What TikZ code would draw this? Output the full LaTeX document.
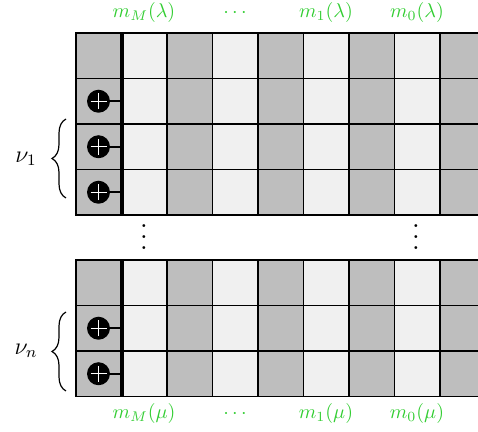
\documentclass[tikz,border=0pt]{standalone}
\usetikzlibrary{decorations.pathreplacing}
\definecolor{cgray}{RGB}{190,190,190}
\definecolor{clight}{RGB}{240,240,240}
\definecolor{lbl}{RGB}{50,205,50}
\begin{document}
\begin{tikzpicture}[x=0.5pt,y=-0.5pt,
  gridline/.style={line width=0.75pt,black},
  thickline/.style={line width=2pt,black},
  plusnode/.style={circle,fill=black,minimum size=11.5pt,inner sep=0pt},
  lab/.style={text=lbl,font=\normalsize},
  dotsnode/.style={scale=1.375,inner sep=0pt},
  bracedeco/.style={decorate,decoration={brace,amplitude=7pt},line width=0.6pt}]
\useasboundingbox (0,0) rectangle (478,432);
\begin{scope}
\clip (0,0) rectangle (478,432);
\foreach \ystart/\nrows in {33/4,260/3}{
  \foreach \c in {0,...,8}{
    \pgfmathsetmacro{\xa}{76+45.5*\c}
    \pgfmathsetmacro{\xb}{76+45.5*(\c+1)}
    \pgfmathtruncatemacro{\cpar}{mod(\c,2)}
    \foreach \r in {1,...,\nrows}{
      \pgfmathsetmacro{\ya}{\ystart+45.5*(\r-1)}
      \pgfmathsetmacro{\yb}{\ystart+45.5*\r}
      \ifnum\cpar=0
        \fill[cgray] (\xa,\ya) rectangle (\xb,\yb);
      \else
        \fill[clight] (\xa,\ya) rectangle (\xb,\yb);
      \fi
      \draw[gridline] (\xa,\ya) rectangle (\xb,\yb);
    }
  }
}
\draw[thickline] (121.5,33) -- (121.5,215);
\draw[thickline] (121.5,260) -- (121.5,396.5);
\end{scope}
% plus circles
\foreach \name/\y in {p1/101.25,p2/146.75,p3/192.25,q1/328.25,q2/373.75}{
  \node[plusnode] (\name) at (98.5,\y) {};
  \coordinate (\name e) at (121.5,\y);
  \draw[line width=1.2pt] (\name) -- (\name e);
  \draw[white,line width=0.6pt] ([xshift=-4pt]\name.center) -- ([xshift=4pt]\name.center)
    ([yshift=-4pt]\name.center) -- ([yshift=4pt]\name.center);
}
% braces
\coordinate (b1s) at (66,198);
\coordinate (b1e) at (66,119);
\draw[bracedeco] (b1s) -- (b1e);
\node[font=\large] (nu1) at (26,159) {$\nu_1$};
\coordinate (b2s) at (66,391);
\coordinate (b2e) at (66,312);
\draw[bracedeco] (b2s) -- (b2e);
\node[font=\large] (nun) at (26,351) {$\nu_n$};
% vdots
\node[dotsnode,anchor=south] (vd1) at (144,250) {$\vdots$};
\node[dotsnode,anchor=south] (vd2) at (416,250) {$\vdots$};
% labels
\node[lab] (t1) at (144,13) {$m_M(\lambda)$};
\node[lab] (t2) at (235,13) {$\cdots$};
\node[lab] (t3) at (326,13) {$m_1(\lambda)$};
\node[lab] (t4) at (417,13) {$m_0(\lambda)$};
\node[lab] (u1) at (144,414) {$m_M(\mu)$};
\node[lab] (u2) at (235,414) {$\cdots$};
\node[lab] (u3) at (326,414) {$m_1(\mu)$};
\node[lab] (u4) at (417,414) {$m_0(\mu)$};
\end{tikzpicture}
\end{document}
